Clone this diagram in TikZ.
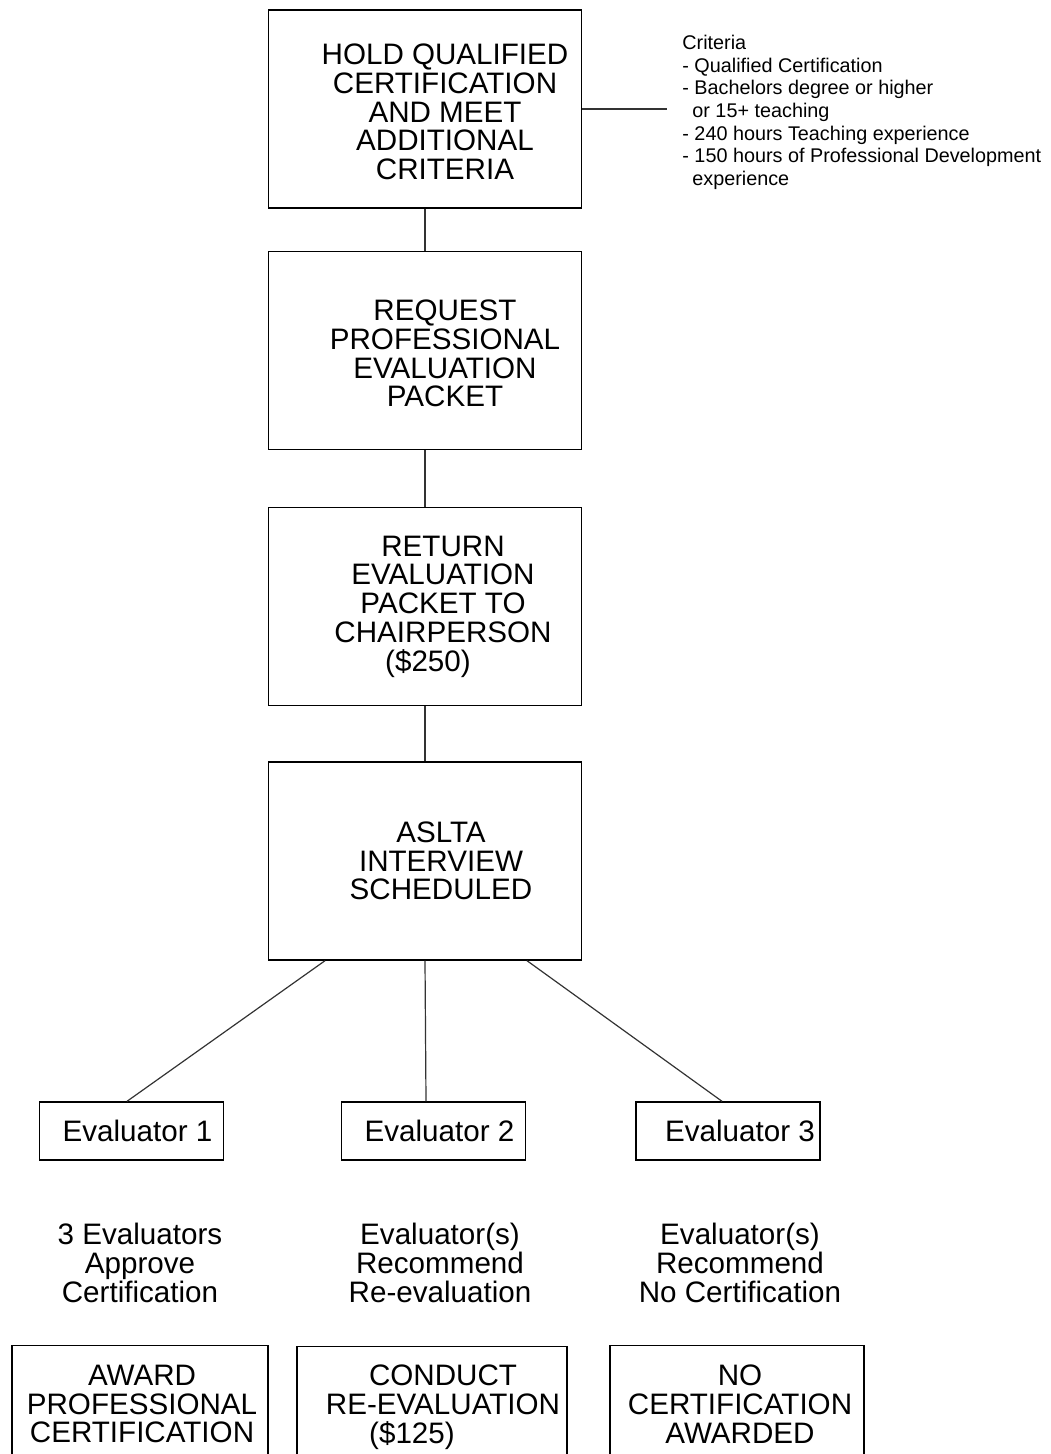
\documentclass[tikz,border=0pt]{standalone}
\usepackage{fontspec}
\setmainfont{Liberation Sans}
\usetikzlibrary{positioning}

\tikzset{
	stepbox/.style={draw=black, line width=0.7pt, minimum width=156.5pt, minimum height=99pt, inner sep=0pt},
	evalbox/.style={draw=black, line width=0.7pt, minimum width=92pt, minimum height=29pt, inner sep=0pt, font=\fontsize{14.8}{14.4}\selectfont},
	endbox/.style={draw=black, line width=0.7pt, minimum height=90pt, anchor=north, inner sep=0pt},
	bigtxt/.style={align=center, inner sep=0pt, font=\fontsize{14.8}{14.4}\selectfont},
	crittxt/.style={align=left, inner sep=0pt, anchor=north west, font=\fontsize{9.9}{11.3}\selectfont},
	link/.style={draw=black!80, line width=0.6pt}
}

\begin{document}
\begin{tikzpicture}[x=0.5pt,y=-0.5pt]
\clip (0,0) rectangle (1050,1454);

% main steps
\node[stepbox, label={[bigtxt,xshift=10pt,yshift=-1.5pt]center:{HOLD QUALIFIED\\CERTIFICATION\\AND MEET\\ADDITIONAL\\CRITERIA}}] (hold) at (425,109) {};
\node[stepbox, label={[bigtxt,xshift=10pt,yshift=-1.5pt]center:{REQUEST\\PROFESSIONAL\\EVALUATION\\PACKET}}] (req) at (425,350.5) {};
\node[stepbox, label={[bigtxt,xshift=9pt]center:{RETURN\\EVALUATION\\PACKET TO\\CHAIRPERSON\\\hspace*{-15pt}(\$250)}}] (ret) at (425,606.5) {};
\node[stepbox, label={[bigtxt,xshift=8pt]center:{ASLTA\\INTERVIEW\\SCHEDULED}}] (asl) at (425,861) {};

% criteria
\coordinate (critend) at (667,109);
\node[crittxt] (crit) at (682,35) {Criteria\\- Qualified Certification\\- Bachelors degree or higher\\\hspace*{5pt}or 15+ teaching\\- 240 hours Teaching experience\\- 150 hours of Professional Development\\\hspace*{5pt}experience};

% evaluators
\node[evalbox] (ev1) at (131.5,1131) {\hspace*{6pt}Evaluator 1};
\node[evalbox] (ev2) at (433.5,1131) {\hspace*{6pt}Evaluator 2};
\node[evalbox] (ev3) at (728,1131) {\hspace*{12pt}Evaluator 3};

% outcomes
\node[bigtxt] (apprlbl) at (140,1263) {3 Evaluators\\Approve\\Certification};
\node[bigtxt] (relbl) at (440,1263) {Evaluator(s)\\Recommend\\Re-evaluation};
\node[bigtxt] (nolbl) at (740,1263) {Evaluator(s)\\Recommend\\No Certification};

\node[endbox, minimum width=128pt] (award) at (140,1345) {};
\node[endbox, minimum width=135pt] (conduct) at (432,1346) {};
\node[endbox, minimum width=127pt] (noaward) at (737,1345) {};
\node[bigtxt] (awardtxt) at (142,1404) {AWARD\\PROFESSIONAL\\CERTIFICATION};
\node[bigtxt] (conducttxt) at (443,1407) {CONDUCT\\RE-EVALUATION\\\hspace*{-31pt}(\$125)};
\node[bigtxt] (noawardtxt) at (740,1404) {NO\\CERTIFICATION\\AWARDED};

% connectors
\draw[link] (hold.south) -- (req.north);
\draw[link] (req.south) -- (ret.north);
\draw[link] (ret.south) -- (asl.north);
\draw[link] (hold.east) -- (critend);
\draw[link] ([xshift=-50pt]asl.south) -- ([xshift=-2.25pt]ev1.north);
\draw[link] (asl.south) -- ([xshift=-3.75pt]ev2.north);
\draw[link] ([xshift=51pt]asl.south) -- ([xshift=-3pt]ev3.north);
\end{tikzpicture}
\end{document}
